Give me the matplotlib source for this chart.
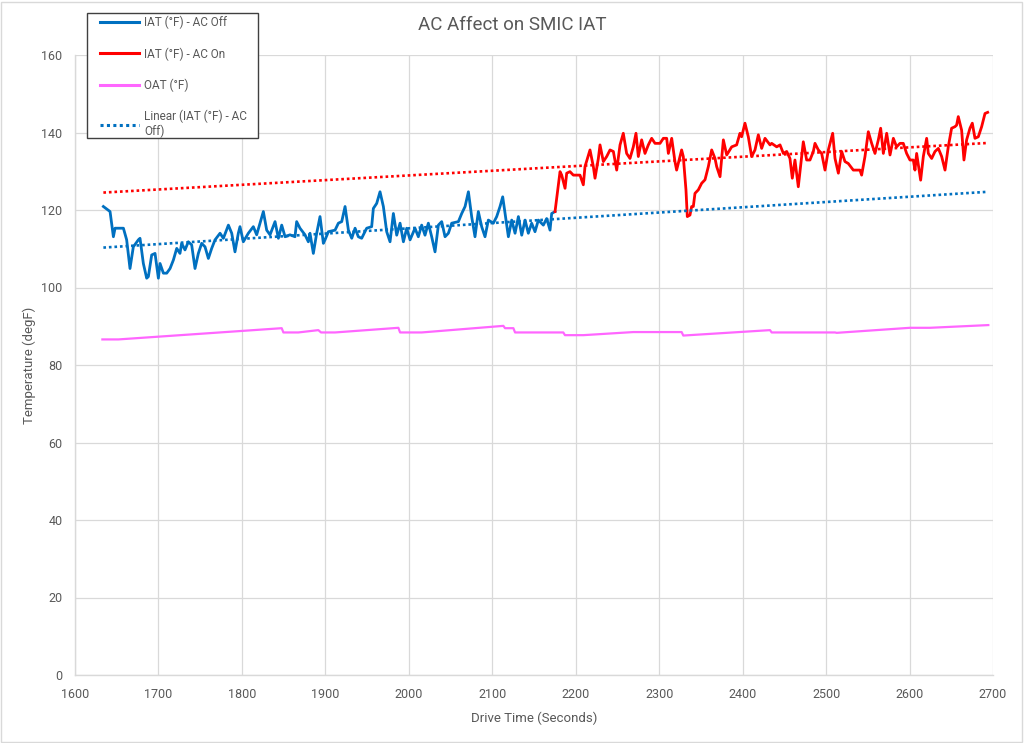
import matplotlib
matplotlib.use("Agg")
import matplotlib.pyplot as plt
from matplotlib.patches import Rectangle

plt.rcParams['font.family'] = ['Roboto', 'DejaVu Sans']

# ---- data ----
off_time = [1634.0, 1642.0, 1646.0, 1648.0, 1658.0, 1661.9, 1665.9, 1669.9, 1675.9, 1677.9,
            1681.9, 1685.9, 1687.9, 1691.9, 1695.9, 1699.9, 1701.9, 1705.9, 1709.9, 1713.9,
            1717.9, 1721.9, 1725.8, 1727.8, 1731.8, 1735.8, 1739.8, 1743.8, 1747.8, 1751.8,
            1755.8, 1759.8, 1763.8, 1767.8, 1773.8, 1777.8, 1783.8, 1787.8, 1791.7, 1795.7,
            1797.7, 1801.7, 1807.7, 1813.7, 1817.7, 1821.7, 1825.7, 1829.7, 1833.7, 1839.7,
            1843.7, 1847.7, 1851.7, 1857.6, 1863.6, 1865.6, 1869.6, 1875.6, 1879.6, 1881.6,
            1885.6, 1889.6, 1893.6, 1897.6, 1899.6, 1903.6, 1911.6, 1915.6, 1919.6, 1923.6,
            1927.6, 1931.6, 1935.6, 1939.5, 1943.5, 1949.5, 1955.5, 1957.5, 1961.5, 1965.5,
            1969.5, 1973.5, 1977.5, 1981.5, 1985.5, 1989.5, 1993.5, 1997.5, 2001.5, 2007.4,
            2011.4, 2015.4, 2019.4, 2023.4, 2027.4, 2031.4, 2035.4, 2039.4, 2043.4, 2047.4,
            2051.4, 2059.4, 2063.4, 2067.4, 2071.4, 2075.3, 2079.3, 2083.3, 2087.3, 2091.3,
            2095.3, 2101.3, 2105.3, 2109.3, 2112.5, 2115.3, 2119.3, 2123.3, 2127.3, 2131.3,
            2135.3, 2139.3, 2143.2, 2147.2, 2151.2, 2155.2, 2161.2, 2165.2, 2169.2, 2171.2,
            2175.2]
off_iat = [120.9, 119.6, 113.1, 115.3, 115.3, 112.3, 104.9, 110.5, 112.3, 112.7,
           106.2, 102.4, 102.8, 108.4, 108.8, 102.4, 106.2, 103.7, 103.7, 104.9,
           107.1, 110.1, 108.8, 111.4, 109.7, 111.8, 111.0, 104.9, 108.8, 111.4,
           110.5, 107.5, 110.1, 112.3, 114.0, 112.7, 116.1, 114.0, 109.2, 114.0,
           115.7, 111.8, 114.0, 115.7, 113.6, 116.6, 119.6, 114.8, 113.6, 117.0,
           112.7, 116.1, 113.1, 113.6, 113.1, 117.0, 115.3, 113.6, 111.8, 114.0,
           108.8, 114.0, 118.3, 111.4, 112.3, 114.4, 114.8, 116.6, 117.0, 120.9,
           114.8, 112.7, 115.3, 113.1, 112.7, 115.3, 115.7, 120.4, 121.7, 124.7,
           120.9, 114.4, 111.8, 119.1, 113.5, 116.6, 111.8, 115.3, 112.3, 115.3,
           113.1, 116.1, 113.5, 116.6, 113.1, 109.2, 116.1, 117.0, 113.1, 114.0,
           116.6, 117.0, 119.1, 120.9, 124.7, 118.3, 113.1, 119.6, 115.7, 113.1,
           117.4, 116.6, 118.3, 120.9, 123.4, 119.1, 113.1, 117.4, 114.0, 118.3,
           113.5, 117.4, 114.0, 116.6, 114.4, 117.4, 116.1, 117.8, 114.8, 119.1,
           119.6]

on_time = [2175.2, 2181.2, 2183.2, 2187.2, 2189.2, 2193.1, 2197.1, 2205.1, 2209.1, 2211.1,
           2217.1, 2221.1, 2223.1, 2227.1, 2229.1, 2233.1, 2237.1, 2241.1, 2245.1, 2249.1,
           2253.1, 2257.0, 2261.0, 2265.0, 2269.0, 2272.2, 2275.0, 2279.0, 2283.0, 2287.0,
           2291.0, 2295.0, 2301.0, 2305.0, 2309.0, 2311.0, 2315.0, 2318.9, 2320.9, 2324.9,
           2326.9, 2328.9, 2332.1, 2333.7, 2336.9, 2338.9, 2340.9, 2342.9, 2346.9, 2350.9,
           2354.9, 2358.9, 2362.9, 2366.9, 2368.9, 2372.9, 2376.9, 2380.9, 2386.9, 2392.8,
           2396.8, 2398.8, 2402.8, 2406.8, 2410.8, 2414.8, 2418.8, 2422.8, 2426.8, 2432.8,
           2434.8, 2440.8, 2444.8, 2448.8, 2452.8, 2456.7, 2459.5, 2462.7, 2466.7, 2470.7,
           2472.7, 2476.7, 2480.7, 2484.7, 2486.7, 2490.7, 2494.7, 2498.7, 2502.7, 2507.9,
           2510.7, 2514.7, 2518.7, 2522.6, 2526.6, 2532.6, 2540.6, 2542.6, 2546.6, 2550.6,
           2554.6, 2558.6, 2562.6, 2565.4, 2568.6, 2572.6, 2576.6, 2580.6, 2584.5, 2588.5,
           2592.5, 2596.5, 2600.5, 2604.5, 2606.5, 2608.5, 2613.3, 2616.5, 2620.5, 2622.5,
           2626.5, 2630.5, 2634.5, 2638.5, 2642.5, 2646.4, 2650.4, 2654.4, 2656.4, 2658.4,
           2662.4, 2665.2, 2668.4, 2672.4, 2675.2, 2678.4, 2682.4, 2686.4, 2690.4, 2693.6]
on_iat = [119.6, 129.9, 129.0, 125.6, 129.5, 129.9, 129.0, 129.0, 126.5, 131.2,
          135.5, 131.2, 128.2, 133.3, 136.8, 132.5, 133.8, 135.5, 135.1, 130.3,
          136.8, 139.8, 134.6, 133.3, 136.3, 139.8, 133.8, 138.1, 134.6, 136.8,
          138.5, 137.2, 137.2, 138.5, 138.5, 134.6, 138.5, 132.5, 130.3, 133.8,
          135.5, 133.8, 125.2, 118.3, 118.7, 120.9, 120.9, 124.3, 125.2, 126.9,
          127.8, 131.2, 135.5, 133.3, 131.2, 128.6, 138.1, 134.2, 136.3, 136.8,
          139.8, 138.9, 142.4, 138.9, 133.8, 135.5, 139.4, 135.9, 138.5, 136.8,
          137.2, 136.3, 136.8, 134.6, 135.1, 133.3, 128.2, 132.9, 126.0, 133.8,
          137.6, 132.9, 132.9, 135.1, 137.2, 135.5, 134.6, 130.3, 135.5, 139.8,
          133.3, 129.5, 135.1, 132.5, 132.0, 130.3, 130.3, 129.0, 133.8, 140.2,
          137.2, 134.6, 138.1, 141.1, 134.6, 139.8, 134.2, 138.5, 136.3, 137.2,
          137.2, 134.6, 132.9, 132.9, 130.3, 134.6, 127.7, 133.8, 138.5, 134.6,
          133.3, 135.1, 135.9, 133.8, 130.3, 136.3, 141.1, 141.5, 141.9, 144.1,
          140.6, 132.9, 138.1, 141.1, 142.4, 138.5, 138.9, 141.5, 144.9, 145.2]

oat_time = [1632.8, 1652.0, 1847.7, 1849.7, 1867.6, 1891.6, 1894.8, 1911.6, 1987.5, 1989.5,
            2015.4, 2113.3, 2115.3, 2125.3, 2127.3, 2185.1, 2187.1, 2209.1, 2269.0, 2326.9,
            2328.9, 2432.8, 2434.8, 2510.7, 2512.7, 2600.5, 2624.5, 2694.4]
oat = [86.6, 86.6, 89.5, 88.4, 88.4, 89.0, 88.4, 88.4, 89.6, 88.4,
       88.4, 90.1, 89.5, 89.5, 88.4, 88.4, 87.7, 87.7, 88.5, 88.5,
       87.6, 89.0, 88.4, 88.4, 88.3, 89.6, 89.6, 90.3]

trend_time = [1634.0, 2694.0]
off_trend = [110.3, 124.7]
on_trend = [124.5, 137.3]

x_ticks = list(range(1600, 2701, 100))
y_ticks = list(range(0, 161, 20))

labels = ["IAT (°F) - AC Off", "IAT (°F) - AC On", "OAT (°F)", "Linear (IAT (°F) - AC\nOff)"]

# ---- styling ----
BLUE = '#0070C0'
RED = '#FF0000'
PINK = '#FF66FF'
GRID = '#D9D9D9'
TXT = '#595959'

fig = plt.figure(figsize=(10.24, 7.43), dpi=100)
ax = fig.add_axes([75/1024, 1-675/743, (993-75)/1024, (675-55)/743])

l1, = ax.plot(off_time, off_iat, color=BLUE, lw=2.0, zorder=3)
l2, = ax.plot(on_time, on_iat, color=RED, lw=2.0, zorder=3)
l3, = ax.plot(oat_time, oat, color=PINK, lw=1.6, zorder=3)
l4, = ax.plot(trend_time, off_trend, color=BLUE, lw=1.9, ls=(0, (1, 1.1)), zorder=4)
ax.plot(trend_time, on_trend, color=RED, lw=1.9, ls=(0, (1, 1.1)), zorder=4)

ax.set_xlim(1600, 2700)
ax.set_ylim(0, 160)
ax.set_xticks(x_ticks)
ax.set_yticks(y_ticks)
ax.grid(True, color=GRID, lw=0.9)
ax.set_axisbelow(True)
for s in ['top', 'right']:
    ax.spines[s].set_visible(False)
for s in ['left', 'bottom']:
    ax.spines[s].set_color(GRID)
    ax.spines[s].set_linewidth(1.0)
ax.tick_params(length=0, labelsize=9, labelcolor=TXT, pad=9)

ax.set_xlabel("Drive Time (Seconds)", fontsize=9.5, color=TXT, labelpad=8)
ax.set_ylabel("Temperature (degF)", fontsize=9.5, color=TXT, labelpad=4)
fig.text(0.5, 1-25/743, "AC Affect on SMIC IAT", ha='center', va='center', fontsize=13.5, color=TXT)

# legend box (Excel-style fixed frame) and entries
fig.patches.append(Rectangle((87/1024, 1-138/743), (258-87)/1024, (138-13)/743,
                             transform=fig.transFigure, facecolor='white',
                             edgecolor='#404040', lw=1.0, zorder=4))
leg = fig.legend([l1, l2, l3, l4], labels, loc='upper left',
                 bbox_to_anchor=(100/1024, 1-16/743), borderaxespad=0,
                 fontsize=8.5, frameon=False, handlelength=3.3, handletextpad=0.45,
                 labelspacing=1.5, borderpad=0)
leg.set_zorder(5)
for t in leg.get_texts():
    t.set_color(TXT)
for h in leg.legend_handles:
    h.set_linewidth(2.2)

fig.patches.append(Rectangle((1/1024, 1/743), 1021/1024, 740/743, transform=fig.transFigure,
                             fill=False, edgecolor=GRID, lw=1.0))

fig.savefig("out.png", dpi=100)
